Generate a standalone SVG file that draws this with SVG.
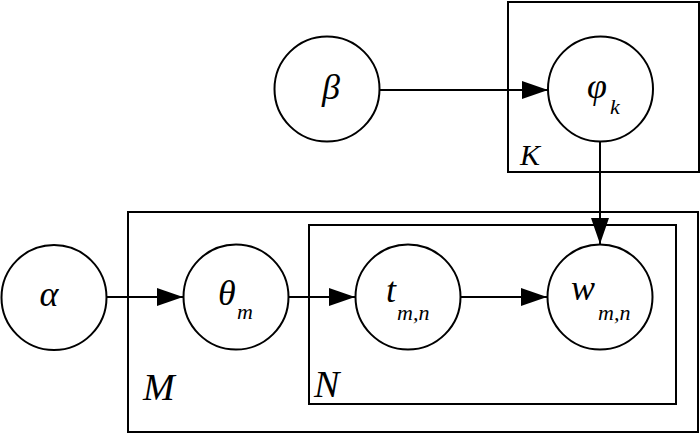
<svg xmlns="http://www.w3.org/2000/svg" width="700" height="434" viewBox="0 0 700 434">
<style>
.n{fill:#fff;stroke:#000;stroke-width:2}
.p{fill:none;stroke:#000;stroke-width:2}
.e{stroke:#000;stroke-width:2;fill:none}
text{font-family:"Liberation Serif","Times New Roman",serif;font-style:italic;fill:#000}
.m{font-size:36px}
.s{font-size:22px}
</style>
<defs>
<marker id="ah" markerUnits="userSpaceOnUse" markerWidth="27" markerHeight="18" refX="26" refY="9" orient="auto">
<path d="M0,0 L26,9 L0,18 z" fill="#000"/>
</marker>
</defs>
<rect width="700" height="434" fill="#fff"/>
<g id="plates">
<rect id="plate-K" class="p" x="508" y="2" width="191" height="170"/>
<rect id="plate-M" class="p" x="128" y="212" width="570" height="220"/>
<rect id="plate-N" class="p" x="309" y="225" width="367" height="179"/>
<text x="520" y="165" font-size="30">K</text>
<text x="143" y="400" font-size="38">M</text>
<text x="314" y="397" font-size="38">N</text>
</g>
<g id="connectors">
<line class="e" x1="380" y1="90" x2="548" y2="90" marker-end="url(#ah)"/>
<line class="e" x1="600" y1="142" x2="600" y2="244" marker-end="url(#ah)"/>
<line class="e" x1="106" y1="297" x2="183" y2="297" marker-end="url(#ah)"/>
<line class="e" x1="289" y1="297" x2="355" y2="297" marker-end="url(#ah)"/>
<line class="e" x1="461" y1="297" x2="547" y2="297" marker-end="url(#ah)"/>
</g>
<g id="beta">
<circle class="n" cx="327" cy="89" r="52.5"/>
<text class="m" x="331" y="99" text-anchor="middle">β</text>
</g>
<g id="phi">
<circle class="n" cx="600.5" cy="89" r="52.5"/>
<text class="m" x="587" y="98">φ</text>
<text class="s" x="610" y="114">k</text>
</g>
<g id="alpha">
<circle class="n" cx="54" cy="297.5" r="52.5"/>
<text class="m" x="49" y="306" text-anchor="middle">α</text>
</g>
<g id="theta">
<circle class="n" cx="236" cy="297" r="52.5"/>
<text class="m" x="218" y="305">θ</text>
<text class="s" x="237" y="319">m</text>
</g>
<g id="node-t">
<circle class="n" cx="408" cy="297" r="52.5"/>
<text class="m" x="386" y="302">t</text>
<text class="s" x="397" y="320">m,n</text>
</g>
<g id="node-w">
<circle class="n" cx="600" cy="297" r="52.5"/>
<text class="m" x="571" y="300">w</text>
<text class="s" x="598" y="320">m,n</text>
</g>
</svg>
